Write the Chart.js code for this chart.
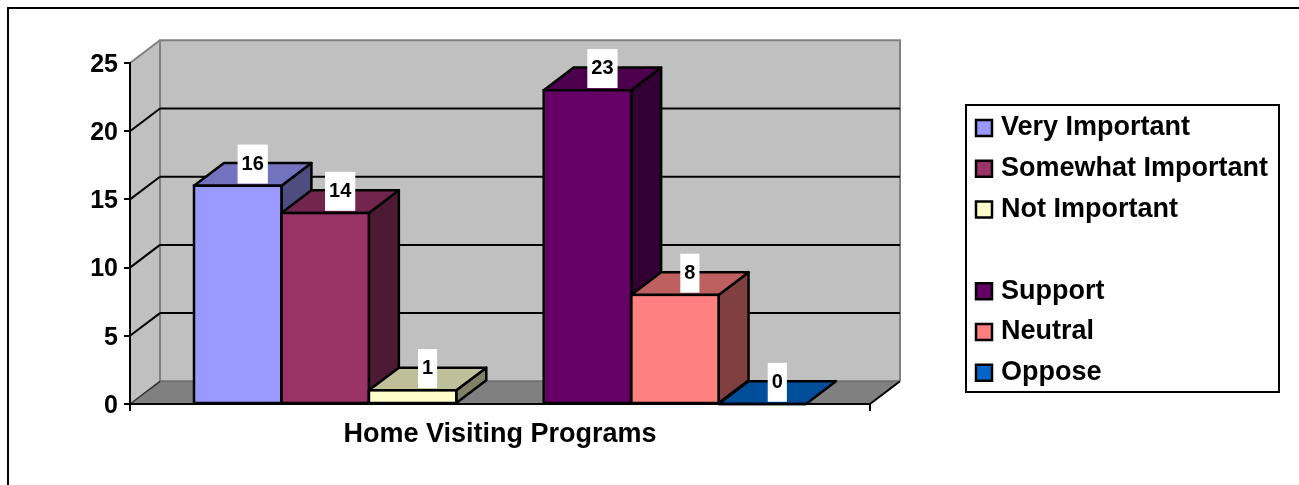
<!DOCTYPE html>
<html lang="en">
<head>
    <meta charset="UTF-8">
    <title>Home Visiting Programs</title>
    <script src="https://cdn.jsdelivr.net/npm/chart.js"></script>
    <style>
        html, body { margin: 0; padding: 0; background: white; }
        canvas { display: block; }
    </style>
</head>
<body>
<canvas id="myChart" width="1299" height="485"></canvas>

<script>
const categories = ['Home Visiting Programs'];
const seriesNames = ['Very Important', 'Somewhat Important', 'Not Important', ' ', 'Support', 'Neutral', 'Oppose'];
const seriesValues = [16, 14, 1, null, 23, 8, 0];
const seriesColors = ['#9999FF', '#993366', '#FFFFCC', 'transparent', '#660066', '#FF8080', '#0066CC'];
const yTickValues = [0, 5, 10, 15, 20, 25];

const FONT = '"Liberation Sans", Arial, sans-serif';
const depthX = 30;   // 3d offset of the back wall
const depthY = 22.7;
const barLine = 2.5;

// darker version of a colour for top and side faces
function shade(hex, k) {
    const n = parseInt(hex.slice(1), 16);
    return `rgb(${Math.round((n >> 16 & 255) * k)},${Math.round((n >> 8 & 255) * k)},${Math.round((n & 255) * k)})`;
}

function poly(ctx, pts, fill, stroke, width) {
    ctx.beginPath();
    pts.forEach((p, i) => i ? ctx.lineTo(p[0], p[1]) : ctx.moveTo(p[0], p[1]));
    ctx.closePath();
    if (fill) { ctx.fillStyle = fill; ctx.fill(); }
    if (stroke) { ctx.strokeStyle = stroke; ctx.lineWidth = width; ctx.lineJoin = 'round'; ctx.stroke(); }
}

function line(ctx, x1, y1, x2, y2, color, width) {
    ctx.beginPath();
    ctx.moveTo(x1, y1);
    ctx.lineTo(x2, y2);
    ctx.strokeStyle = color;
    ctx.lineWidth = width;
    ctx.stroke();
}

// outer frame, walls, floor, gridlines and legend box
const backdrop = {
    id: 'backdrop',
    beforeDraw(chart) {
        const ctx = chart.ctx;
        const y = chart.scales.y;
        const a = chart.chartArea;
        const y0 = y.getPixelForValue(0);
        const yMax = y.getPixelForValue(25);
        const backL = a.left + depthX, backR = a.right + depthX;

        ctx.save();
        ctx.fillStyle = 'black';
        ctx.fillRect(7, 7, chart.width - 7, 2);
        ctx.fillRect(7, 7, 2, chart.height - 7);

        poly(ctx, [[backL, yMax - depthY], [backR, yMax - depthY], [backR, y0 - depthY], [backL, y0 - depthY]], '#C0C0C0');
        poly(ctx, [[a.left, yMax], [backL, yMax - depthY], [backL, y0 - depthY], [a.left, y0]], '#C0C0C0');
        poly(ctx, [[a.left, y0], [backL, y0 - depthY], [backR, y0 - depthY], [a.right, y0]], '#808080');

        line(ctx, backL, yMax - depthY, backL, y0 - depthY, '#808080', 2);
        line(ctx, backR, yMax - depthY, backR, y0 - depthY, '#808080', 2);
        line(ctx, a.left, yMax, backL, yMax - depthY, '#808080', 2);
        line(ctx, backL - 1, yMax - depthY, backR + 1, yMax - depthY, '#808080', 2);
        line(ctx, backL, y0 - depthY, backR, y0 - depthY, '#707070', 2);
        line(ctx, a.left, y0, backL, y0 - depthY, '#303030', 1.5);
        line(ctx, a.right, y0, backR, y0 - depthY, 'black', 2);

        yTickValues.filter(v => v > 0 && v < 25).forEach(v => {
            const py = y.getPixelForValue(v);
            line(ctx, a.left, py, backL, py - depthY, 'black', 2);
            line(ctx, backL, py - depthY, backR, py - depthY, 'black', 2);
        });

        // legend sits at a fixed spot right of the plot
        const lg = chart.legend;
        lg.left = 966.7;
        lg.top = 100.7;
        lg.right = 1285;
        lg.bottom = 420;
        ctx.strokeStyle = 'black';
        ctx.lineWidth = 2;
        ctx.strokeRect(966, 105, 313, 287);
        ctx.restore();
    },
    // top and side faces go first, the library paints the front faces over them
    beforeDatasetsDraw(chart) {
        const ctx = chart.ctx;
        ctx.save();
        seriesValues.forEach((value, i) => {
            if (value === null) return;
            const bar = chart.getDatasetMeta(i).data[0];
            const l = bar.x - bar.width / 2, r = bar.x + bar.width / 2;
            const top = bar.y, base = bar.base;
            if (value > 0) {
                poly(ctx, [[r, top], [r + depthX, top - depthY], [r + depthX, base - depthY], [r, base]], shade(seriesColors[i], 0.5), 'black', barLine);
            }
            poly(ctx, [[l, top], [l + depthX, top - depthY], [r + depthX, top - depthY], [r, top]], shade(seriesColors[i], 0.75), 'black', barLine);
        });
        ctx.restore();
    },
    // front outlines and value labels on white boxes
    afterDatasetsDraw(chart) {
        const ctx = chart.ctx;
        ctx.save();
        ctx.strokeStyle = 'black';
        ctx.lineWidth = barLine;
        seriesValues.forEach((value, i) => {
            if (value === null) return;
            const bar = chart.getDatasetMeta(i).data[0];
            ctx.strokeRect(bar.x - bar.width / 2, bar.y, bar.width, bar.base - bar.y);
        });
        ctx.font = 'bold 20px ' + FONT;
        ctx.textAlign = 'center';
        ctx.textBaseline = 'middle';
        seriesValues.forEach((value, i) => {
            if (value === null) return;
            const bar = chart.getDatasetMeta(i).data[0];
            const text = String(value);
            const w = ctx.measureText(text).width + 8;
            const cx = bar.x + depthX / 2;
            const cy = bar.y - depthY + 1;
            ctx.fillStyle = 'white';
            ctx.fillRect(cx - w / 2, cy - 19.5, w, 39);
            ctx.fillStyle = 'black';
            ctx.fillText(text, cx, cy);
        });
        ctx.restore();
    }
};

const ctx = document.getElementById('myChart').getContext('2d');
const myChart = new Chart(ctx, {
    type: 'bar',
    data: {
        labels: categories,
        datasets: seriesNames.map((name, i) => ({
            label: name,
            data: [seriesValues[i]],
            backgroundColor: seriesColors[i],
            borderWidth: 0,
            barPercentage: 1,
            categoryPercentage: 612 / 740
        }))
    },
    options: {
        responsive: false,
        animation: false,
        events: [],
        layout: { padding: { top: 63, right: 429, bottom: 0, left: 0 } },
        scales: {
            x: {
                afterFit(scale) { scale.height = 81; },
                border: { color: 'black', width: 2 },
                grid: { drawOnChartArea: false, color: 'black', tickColor: 'black', tickLength: 7, lineWidth: 2 },
                ticks: { color: 'black', font: { family: FONT, size: 27, weight: 'bold' }, padding: 7, maxRotation: 0, autoSkip: false }
            },
            y: {
                min: 0,
                max: 25,
                afterFit(scale) { scale.width = 130; },
                border: { color: 'black', width: 2 },
                grid: { drawOnChartArea: false, color: 'black', tickColor: 'black', tickLength: 6, lineWidth: 2 },
                ticks: { stepSize: 5, color: 'black', font: { family: FONT, size: 25, weight: 'bold' }, padding: 6, labelOffset: 2 }
            }
        },
        plugins: {
            tooltip: { enabled: false },
            legend: {
                position: 'chartArea',
                align: 'start',
                labels: {
                    color: 'black',
                    font: { family: FONT, size: 27, weight: 'bold' },
                    usePointStyle: true,
                    pointStyle: 'rect',
                    boxWidth: 7,
                    boxHeight: 16,
                    padding: 13.8,
                    generateLabels(chart) {
                        return Chart.defaults.plugins.legend.labels.generateLabels(chart).map(item => ({
                            ...item,
                            lineWidth: 2.5,
                            strokeStyle: item.text.trim() ? 'black' : 'transparent'
                        }));
                    }
                }
            }
        }
    },
    plugins: [backdrop]
});
</script>
</body>
</html>
